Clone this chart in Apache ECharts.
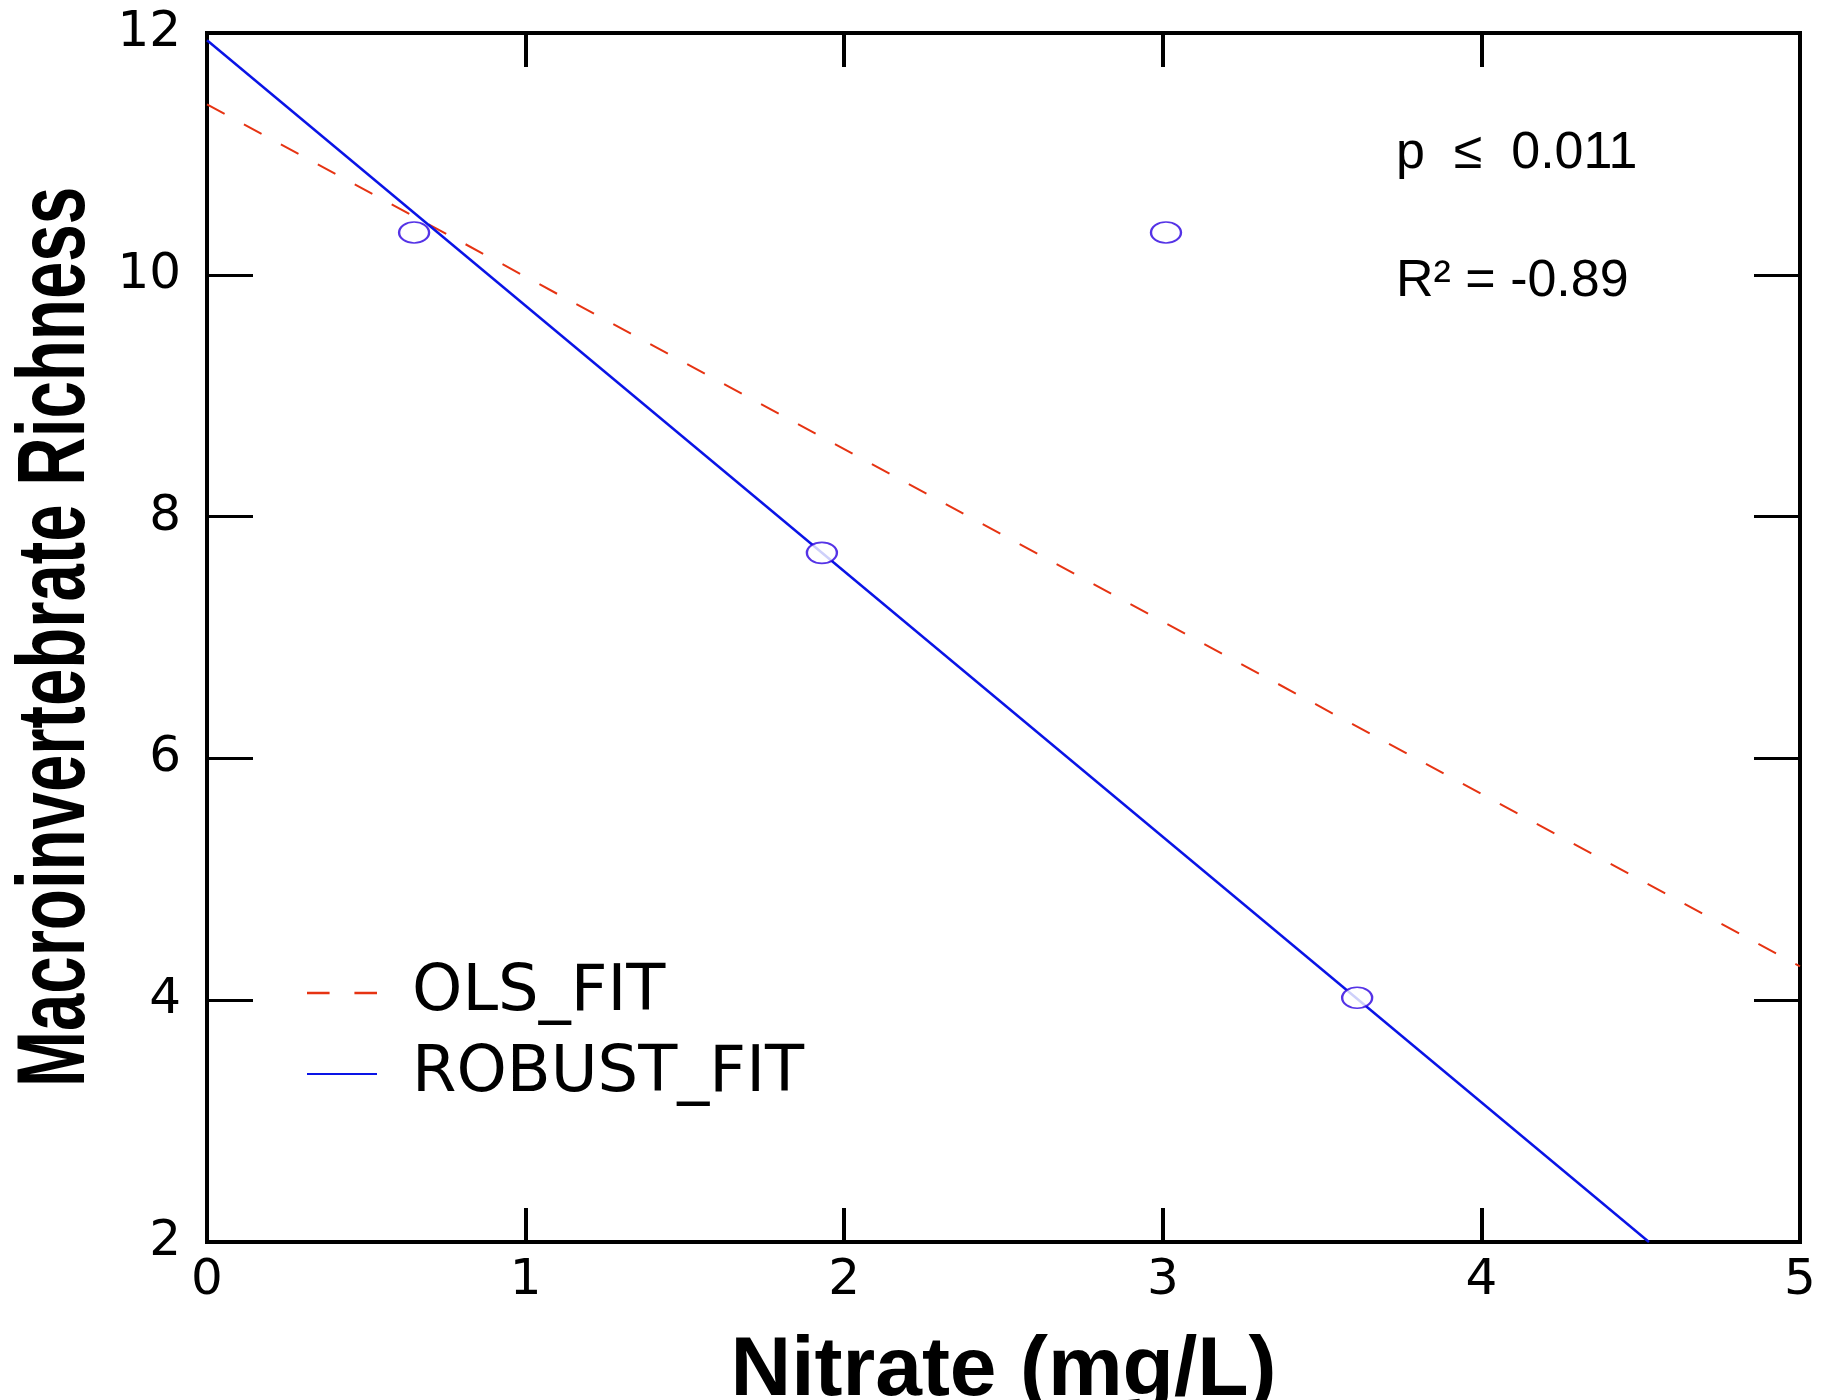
<!DOCTYPE html>
<html>
<head>
<meta charset="utf-8">
<script src="https://cdn.jsdelivr.net/npm/echarts@6/dist/echarts.min.js"></script>
<style>html,body{margin:0;padding:0;background:#fff;}#c{width:1834px;height:1400px;}</style>
</head>
<body>
<div id="c"></div>
<script>
// Data
const pointX = [0.65, 1.93, 3.01, 3.61];
const pointY = [10.35, 7.70, 10.35, 4.02];
const olsX = [0, 5];
const olsY = [11.41, 4.28];
const robustX = [0, 4.526];
const robustY = [11.94, 2];
const seriesNames = ['OLS_FIT', 'ROBUST_FIT'];
const xTicks = [0, 1, 2, 3, 4, 5];
const yTicks = [2, 4, 6, 8, 10, 12];
const statLines = ['p  \u2264  0.011', 'R\u00b2 = -0.89'];
const xTitle = 'Nitrate (mg/L)';
const yTitle = 'Macroinvertebrate Richness';

const zip = (a, b) => a.map((v, i) => [v, b[i]]);
const chart = echarts.init(document.getElementById('c'), null, {renderer: 'canvas'});
const labelFont = '"DejaVu Sans"';
const xMin = xTicks[0], xMax = xTicks[xTicks.length - 1];
const yMin = yTicks[0], yMax = yTicks[yTicks.length - 1];

const xBase = {
  type: 'value', min: xMin, max: xMax, interval: 1,
  splitLine: {show: false},
  axisLine: {show: false, onZero: false},
  axisTick: {show: true, inside: true, length: 34, lineStyle: {color: '#000', width: 4}}
};
const yBase = {
  type: 'value', min: yMin, max: yMax, interval: 2,
  splitLine: {show: false},
  axisLine: {show: false, onZero: false},
  axisTick: {show: true, inside: true, length: 46, lineStyle: {color: '#000', width: 3}}
};

chart.setOption({
  animation: false,
  backgroundColor: '#fff',
  grid: {
    left: 207, right: 34, top: 33, bottom: 158,
    containLabel: false, outerBoundsMode: 'none',
    show: true, borderWidth: 4, borderColor: '#000', backgroundColor: 'transparent'
  },
  xAxis: [
    Object.assign({}, xBase, {
      position: 'bottom',
      axisLabel: {show: true, margin: 14, fontSize: 50, fontFamily: labelFont, color: '#000'},
      name: xTitle, nameLocation: 'middle', nameGap: 88,
      nameTextStyle: {fontSize: 84, fontWeight: 'bold', fontFamily: '"Liberation Sans"', color: '#000'}
    }),
    Object.assign({}, xBase, {position: 'top', axisLabel: {show: false}})
  ],
  yAxis: [
    Object.assign({}, yBase, {
      position: 'left',
      axisLabel: {show: true, margin: 26, fontSize: 50, fontFamily: labelFont, color: '#000'}
    }),
    Object.assign({}, yBase, {position: 'right', axisLabel: {show: false}})
  ],
  legend: {
    orient: 'vertical', left: 302, top: 956,
    itemWidth: 70, itemHeight: 3, itemGap: 17,
    data: [
      {name: seriesNames[0], icon: 'path://M0,0H20V2H0Z M42,0H62V2H42Z'},
      {name: seriesNames[1], icon: 'path://M0,0H70V2H0Z'}
    ],
    textStyle: {fontSize: 64, lineHeight: 62, fontFamily: labelFont, color: '#000', padding: [0, 0, 0, 30]}
  },
  series: [
    {
      name: seriesNames[0], type: 'line', data: zip(olsX, olsY), symbol: 'none',
      lineStyle: {color: '#e63312', width: 2, type: [20, 22]}, itemStyle: {color: '#e63312'}, z: 3
    },
    {
      name: seriesNames[1], type: 'line', data: zip(robustX, robustY), symbol: 'none',
      lineStyle: {color: '#0a14e6', width: 2.5, type: 'solid'}, itemStyle: {color: '#0a14e6'}, z: 3
    },
    {
      name: 'points', type: 'scatter', data: zip(pointX, pointY),
      symbol: 'emptyCircle', symbolSize: [30, 21],
      itemStyle: {color: '#2a00e0', borderColor: '#2a00e0', borderWidth: 3}, z: 4
    }
  ],
  graphic: [
    {
      type: 'text', x: 58, y: 637, rotation: Math.PI / 2, scaleX: 0.70,
      style: {text: yTitle, font: 'bold 96px "Liberation Sans"', textAlign: 'center', textVerticalAlign: 'middle', fill: '#000'}
    },
    {
      type: 'text', x: 1396, y: 154,
      style: {text: statLines[0], font: '52px "Liberation Sans"', textAlign: 'left', textVerticalAlign: 'middle', fill: '#000'}
    },
    {
      type: 'text', x: 1396, y: 282,
      style: {text: statLines[1], font: '52px "Liberation Sans"', textAlign: 'left', textVerticalAlign: 'middle', fill: '#000'}
    }
  ]
});
</script>
</body>
</html>
